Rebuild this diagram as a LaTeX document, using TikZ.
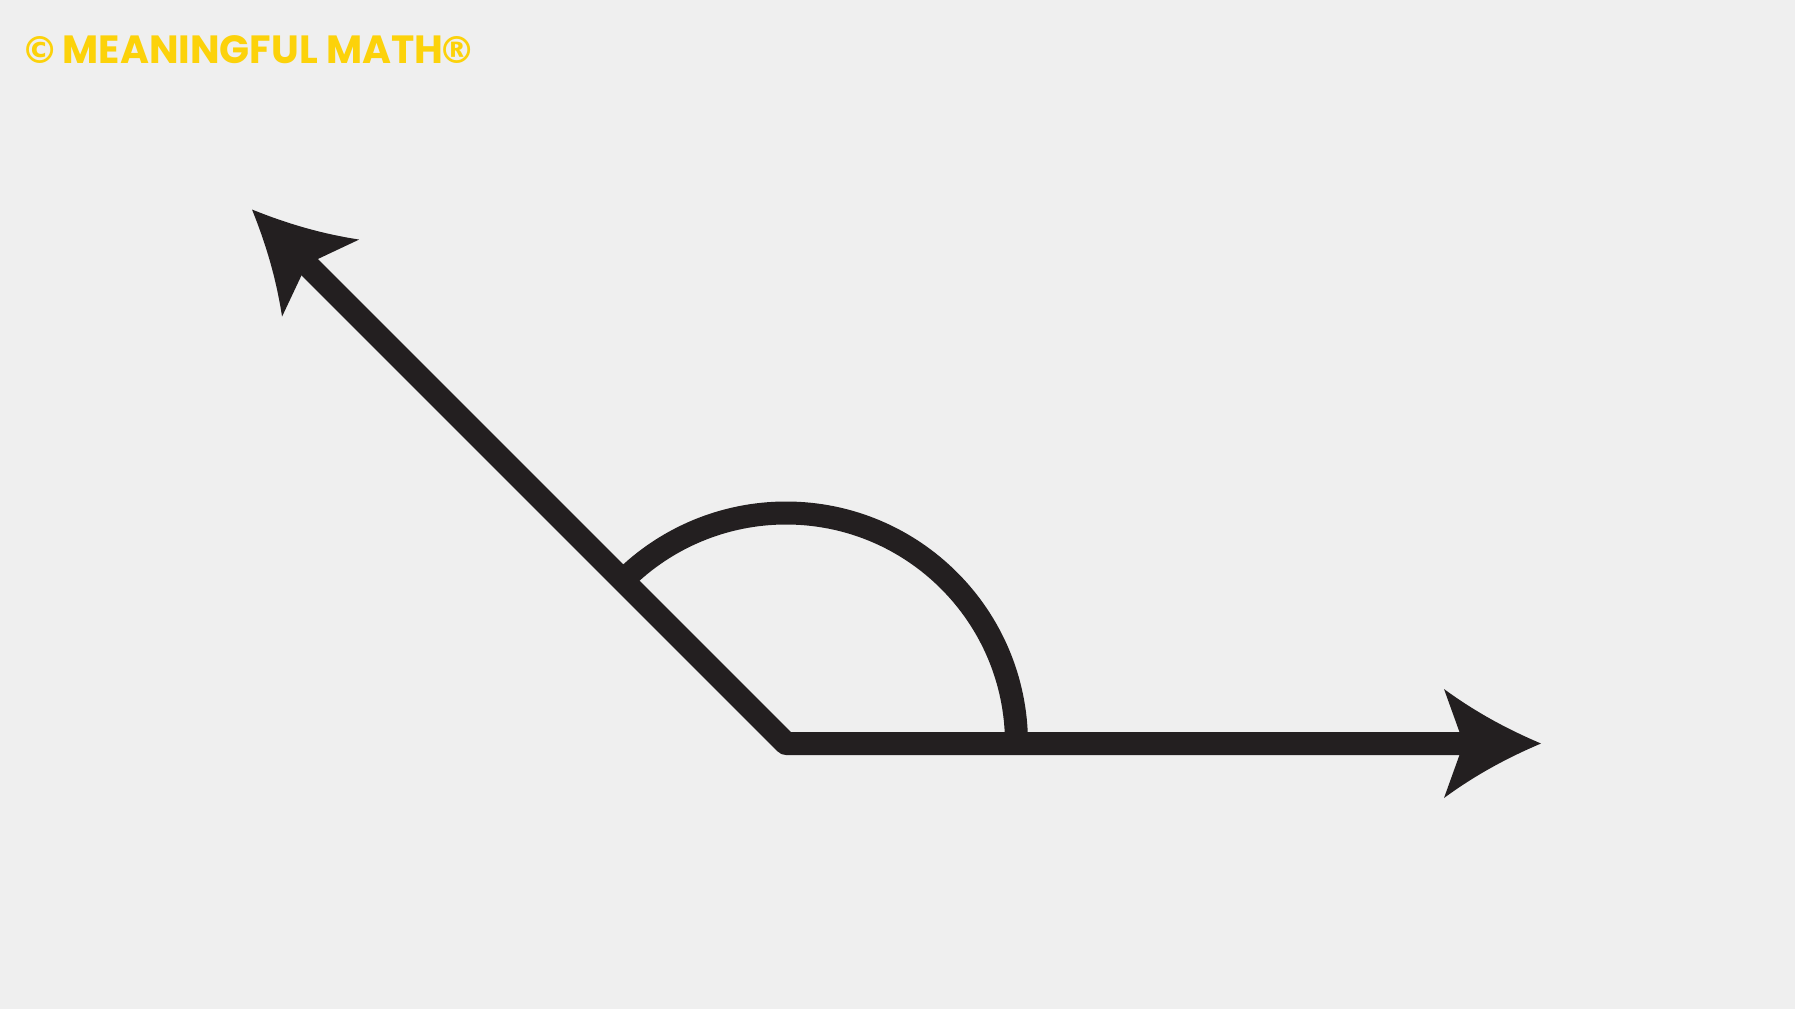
\documentclass[tikz,border=0pt]{standalone}
\usepackage{fontspec}
\newfontfamily\logofont{Poppins}
\newfontfamily\markfont{DejaVu Sans}
\definecolor{paper}{HTML}{EFEFEF}
\definecolor{ink}{HTML}{231F20}
\definecolor{logoyellow}{HTML}{FCD20A}
\newcommand{\logomark}[1]{{\markfont\fontsize{10.6}{13}\selectfont #1}}
\tikzset{
  ray/.style={draw=ink, line width=0.23cm, line join=round},
  head/.pic={
    \fill[ink] (0,0) .. controls (-0.33,0.14) and (-0.65,0.31) .. (-0.97,0.545)
      -- (-0.774,0) -- (-0.97,-0.545)
      .. controls (-0.65,-0.31) and (-0.33,-0.14) .. (0,0) -- cycle;
  }
}
\begin{document}
\begin{tikzpicture}[scale=1.0]
    % Background and page size
    \fill[paper] (0,0) rectangle (17.95,10.09);
    \useasboundingbox (0,0) rectangle (17.95,10.09);

    % Logo
    \node[anchor=base west, inner sep=0pt, text=logoyellow,
          font=\logofont\bfseries\fontsize{11.2}{13}\selectfont] (logo)
          at (0.21,9.457) {\logomark{©}\hspace{-0.12em} MEANINGFUL MATH\kern-0.12em\logomark{®}};

    % Vertex and ends of the two rays
    \coordinate (vertex) at (7.86,2.655);
    \coordinate (tipA) at (2.52,7.995);
    \coordinate (tipB) at (15.41,2.655);

    % Rays
    \draw[ray, shorten <=0.7cm, shorten >=0.7cm] (tipA) -- (vertex) -- (tipB);
    \pic[rotate=135] at (tipA) {head};
    \pic at (tipB) {head};

    % Angle mark
    \draw[ray] (vertex) ++(2.305,0) arc[start angle=0, end angle=135, radius=2.305];
\end{tikzpicture}
\end{document}
